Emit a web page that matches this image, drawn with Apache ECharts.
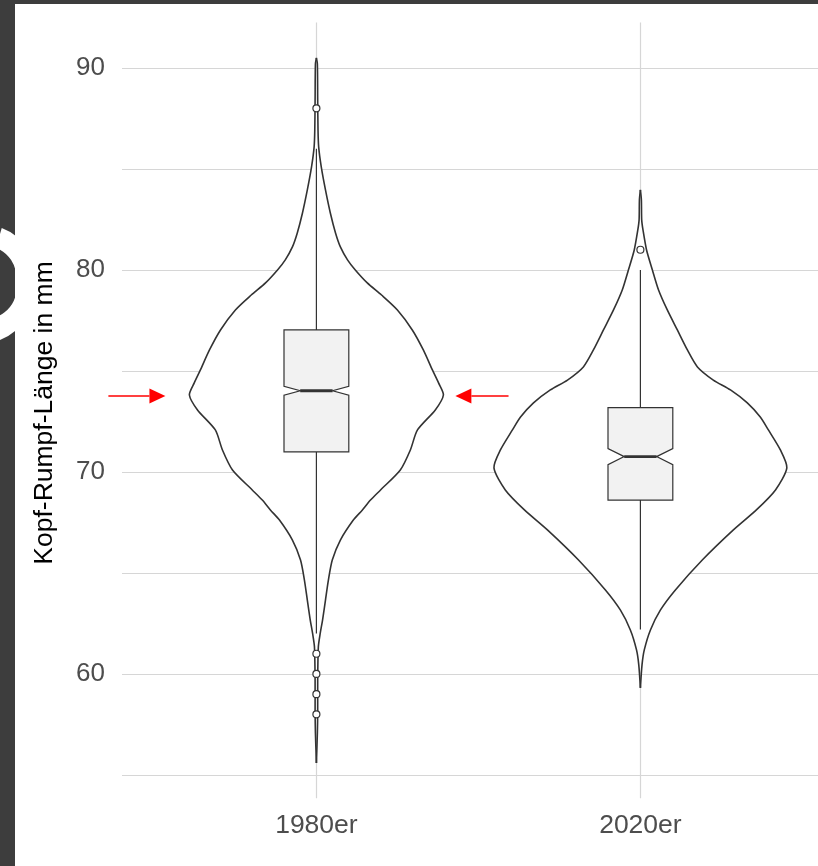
<!DOCTYPE html>
<html><head><meta charset="utf-8">
<script src="https://cdn.jsdelivr.net/npm/echarts@6/dist/echarts.min.js"></script>
<style>html,body{margin:0;padding:0;background:#fff}#c{width:818px;height:866px}</style>
</head><body><div id="c"></div>
<script>
// ---------- data ----------
const categories = ['1980er', '2020er'];
const yTickLabels = [60, 70, 80, 90];
const yGridValues = [55, 60, 65, 70, 75, 80, 85, 90];

// violin outlines: y values and half widths (x-axis units)
const violin1980Y = [90.50, 90.20, 88.42, 86.93, 86.09, 85.10, 83.96, 82.82, 81.83, 81.14, 80.50, 80.00, 79.36, 78.76, 78.02, 77.03, 76.04, 75.05, 74.41, 73.81, 73.07, 72.08, 71.09, 70.10, 69.11, 68.61, 68.12, 67.62, 66.63, 65.64, 64.65, 63.66, 62.67, 62.03, 61.34, 59.70, 58.07, 57.08, 55.59];
const violin1980W = [0, 0.003, 0.004, 0.005, 0.007, 0.015, 0.028, 0.043, 0.059, 0.074, 0.096, 0.120, 0.157, 0.201, 0.250, 0.296, 0.330, 0.358, 0.377, 0.392, 0.367, 0.312, 0.290, 0.259, 0.198, 0.167, 0.142, 0.114, 0.074, 0.049, 0.037, 0.028, 0.019, 0.012, 0.006, 0.004, 0.004, 0.003, 0];
const violin2020Y = [83.96, 83.47, 82.48, 81.98, 80.99, 80.00, 79.01, 78.02, 77.03, 76.04, 75.20, 74.55, 74.06, 73.42, 72.72, 72.08, 71.09, 70.20, 69.11, 68.12, 67.13, 65.64, 64.16, 63.17, 62.18, 61.19, 60.45, 59.31];
const violin2020W = [0, 0.003, 0.004, 0.008, 0.019, 0.037, 0.056, 0.083, 0.114, 0.145, 0.176, 0.225, 0.278, 0.330, 0.370, 0.395, 0.432, 0.452, 0.417, 0.358, 0.287, 0.191, 0.108, 0.062, 0.031, 0.012, 0.005, 0];

// notched boxplot statistics
const boxQ1 = [70.99, 68.61];
const boxMedian = [74.02, 70.76];
const boxQ3 = [77.03, 73.18];
const notchLow = [73.80, 70.36];
const notchHigh = [74.24, 71.16];
const whiskerLow = [62.0, 62.2];
const whiskerHigh = [86.0, 80.0];
const outliers1980 = [88, 61, 60, 59, 58];
const outliers2020 = [81];

// red annotation arrows [x from, x to] at value y
const arrowY = [73.76, 73.76];
const arrowFromX = [0.358, 1.593];
const arrowToX = [0.534, 1.429];

// ---------- chart ----------
const FONT = 'Liberation Sans, Arial, sans-serif';
const violinY = [violin1980Y, violin2020Y];
const violinW = [violin1980W, violin2020W];
const outliers = [outliers1980, outliers2020];
const BOX_HW = 0.1, NOTCH_HW = 0.05;

const chart = echarts.init(document.getElementById('c'), null, {renderer: 'canvas'});

function renderViolin(params, api) {
  const i = params.dataIndex, cx = i + 1;
  const ys = violinY[i], ws = violinW[i];
  const right = [], left = [];
  for (let k = 0; k < ys.length; k++) right.push(api.coord([cx + ws[k], ys[k]]));
  for (let k = ys.length - 1; k >= 0; k--) left.push(api.coord([cx - ws[k], ys[k]]));
  const style = {fill: 'none', stroke: '#333333', lineWidth: 1.6};
  return {type: 'group', children: [
    {type: 'polygon', shape: {points: right.concat(left), smooth: 0.25, smoothConstraint: false}, style: {fill: '#ffffff', stroke: 'none'}},
    {type: 'polyline', shape: {points: right, smooth: 0.25}, style},
    {type: 'polyline', shape: {points: left, smooth: 0.25}, style}
  ]};
}

function renderBox(params, api) {
  const i = params.dataIndex, cx = i + 1;
  const c = (x, y) => api.coord([x, y]);
  const children = [];
  const ls = {stroke: '#333333', lineWidth: 1.2};
  const wt = c(cx, whiskerHigh[i]), q3 = c(cx, boxQ3[i]);
  const wb = c(cx, whiskerLow[i]), q1 = c(cx, boxQ1[i]);
  children.push({type: 'line', shape: {x1: wt[0], y1: wt[1], x2: q3[0], y2: q3[1]}, style: ls});
  children.push({type: 'line', shape: {x1: wb[0], y1: wb[1], x2: q1[0], y2: q1[1]}, style: ls});
  const L = cx - BOX_HW, R = cx + BOX_HW, NL = cx - NOTCH_HW, NR = cx + NOTCH_HW;
  const pts = [
    c(L, boxQ1[i]), c(L, notchLow[i]), c(NL, boxMedian[i]), c(L, notchHigh[i]), c(L, boxQ3[i]),
    c(R, boxQ3[i]), c(R, notchHigh[i]), c(NR, boxMedian[i]), c(R, notchLow[i]), c(R, boxQ1[i])
  ];
  children.push({type: 'polygon', shape: {points: pts}, style: {fill: '#f2f2f2', stroke: '#333333', lineWidth: 1.2}});
  const m1 = c(NL, boxMedian[i]), m2 = c(NR, boxMedian[i]);
  children.push({type: 'line', shape: {x1: m1[0], y1: m1[1], x2: m2[0], y2: m2[1]}, style: {stroke: '#333333', lineWidth: 2.8}});
  outliers[i].forEach(v => {
    const p = c(cx, v);
    children.push({type: 'circle', shape: {cx: p[0], cy: p[1], r: 3.5}, style: {fill: '#ffffff', stroke: '#333333', lineWidth: 1.2}});
  });
  return {type: 'group', children};
}

function renderArrow(params, api) {
  const i = params.dataIndex;
  const a = api.coord([arrowFromX[i], arrowY[i]]);
  const b = api.coord([arrowToX[i], arrowY[i]]);
  const dir = b[0] > a[0] ? 1 : -1;
  const headLen = 16, headHalf = 7.5;
  const base = b[0] - dir * headLen;
  return {type: 'group', children: [
    {type: 'line', shape: {x1: a[0], y1: a[1], x2: base, y2: b[1]}, style: {stroke: '#ff0000', lineWidth: 1.4}},
    {type: 'polygon', shape: {points: [[b[0], b[1]], [base, b[1] - headHalf], [base, b[1] + headHalf]]}, style: {fill: '#ff0000'}}
  ]};
}

const option = {
  animation: false,
  backgroundColor: '#ffffff',
  grid: {left: 122, top: 22.5, width: 712.8, height: 775.7, containLabel: false, outerBoundsMode: 'none'},
  xAxis: {
    type: 'value', min: 0.4, max: 2.6,
    axisLine: {show: false},
    axisTick: {show: false, customValues: [1, 2]},
    axisLabel: {customValues: [1, 2], formatter: v => categories[Math.round(v) - 1], color: '#4d4d4d', fontSize: 26.5, fontFamily: FONT, margin: 14},
    splitLine: {show: true, lineStyle: {color: '#d6d6d6', width: 1.2}}
  },
  yAxis: {
    type: 'value', min: 53.85, max: 92.25,
    axisLine: {show: false},
    axisTick: {show: false, customValues: yGridValues},
    axisLabel: {customValues: yTickLabels, color: '#4d4d4d', fontSize: 26, fontFamily: FONT, margin: 17},
    splitLine: {show: true, lineStyle: {color: '#d6d6d6', width: 1.2}}
  },
  series: [
    {type: 'custom', name: 'violin', renderItem: renderViolin, data: categories.map((c, i) => [i + 1, boxMedian[i]]), z: 2, silent: true},
    {type: 'custom', name: 'box', renderItem: renderBox, data: categories.map((c, i) => [i + 1, boxMedian[i]]), z: 3, silent: true},
    {type: 'custom', name: 'arrows', renderItem: renderArrow, clip: false, data: arrowY.map((y, i) => [arrowToX[i], y]), z: 4, silent: true}
  ],
  graphic: [
    {type: 'rect', left: 0, top: 0, shape: {x: 0, y: 0, width: 15, height: 866}, style: {fill: '#3d3d3d'}, z: 10},
    {type: 'rect', left: 0, top: 0, shape: {x: 0, y: 0, width: 818, height: 4}, style: {fill: '#3d3d3d'}, z: 10},
    {type: 'text', x: -40, y: 285, rotation: Math.PI / 2, z: 20,
      style: {text: 'e', fontSize: 260, fontFamily: FONT, fill: '#ffffff', align: 'center', verticalAlign: 'middle', textAlign: 'center', textVerticalAlign: 'middle'}},
    {type: 'text', x: 45, y: 413, rotation: Math.PI / 2, z: 22,
      style: {text: 'Kopf-Rumpf-Länge in mm', fontSize: 26.5, fontFamily: FONT, fill: '#000000', align: 'center', verticalAlign: 'middle', textAlign: 'center', textVerticalAlign: 'middle'}}
  ]
};
chart.setOption(option);
</script>
</body></html>
